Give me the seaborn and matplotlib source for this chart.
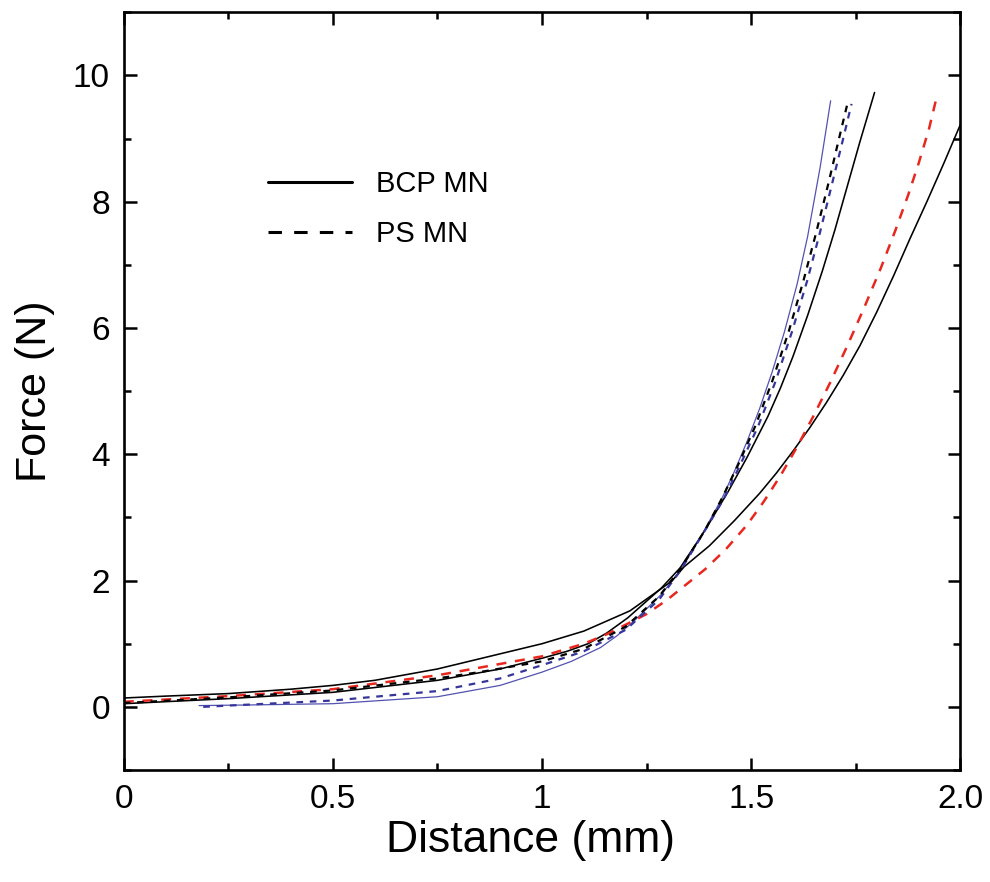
import numpy as np
import matplotlib
matplotlib.use("Agg")
import matplotlib.pyplot as plt
import seaborn as sns
from matplotlib.lines import Line2D
from matplotlib.ticker import MultipleLocator

sns.set_style("ticks")
plt.rcParams['font.family'] = ['Liberation Sans', 'DejaVu Sans']
plt.rcParams['text.color'] = 'black'
plt.rcParams['axes.labelcolor'] = 'black'
plt.rcParams['xtick.color'] = 'black'
plt.rcParams['ytick.color'] = 'black'

# force-distance curves (x in mm, y in N)
bcp_a_x = [0.0, 0.1, 0.25, 0.4, 0.5, 0.6, 0.75, 0.9, 1.0, 1.05, 1.1, 1.21, 1.31, 1.34, 1.40, 1.46, 1.52, 1.56, 1.60,
           1.64, 1.68, 1.72, 1.76, 1.80, 1.84, 1.88, 1.92, 1.96, 2.0]
bcp_a_y = [0.14, 0.17, 0.21, 0.28, 0.34, 0.42, 0.6, 0.84, 1.0, 1.1, 1.2, 1.52, 1.99, 2.22, 2.55, 2.95, 3.38, 3.7, 4.05,
           4.42, 4.82, 5.25, 5.72, 6.25, 6.82, 7.42, 8.0, 8.6, 9.22]

bcp_b_x = [0.0, 0.25, 0.5, 0.75, 0.9, 1.0, 1.06, 1.11, 1.155, 1.205, 1.285, 1.33, 1.39, 1.445, 1.49, 1.54, 1.57, 1.60,
           1.635, 1.67, 1.70, 1.73, 1.76, 1.795]
bcp_b_y = [0.05, 0.13, 0.23, 0.42, 0.6, 0.77, 0.88, 1.0, 1.17, 1.41, 1.88, 2.2, 2.8, 3.41, 3.95, 4.6, 5.05, 5.55,
           6.2, 6.9, 7.55, 8.25, 8.95, 9.73]

bcp_blue_x = [0.18, 0.3, 0.5, 0.75, 0.9, 1.0, 1.07, 1.14, 1.18, 1.22, 1.285, 1.33, 1.38, 1.43, 1.46, 1.49, 1.52, 1.55,
              1.58, 1.61, 1.635, 1.665, 1.69]
bcp_blue_y = [0.02, 0.03, 0.05, 0.16, 0.34, 0.55, 0.72, 0.94, 1.13, 1.36, 1.78, 2.15, 2.7, 3.3, 3.73, 4.2, 4.72, 5.3,
              5.95, 6.7, 7.45, 8.55, 9.6]

ps_black_x = [0.0, 0.25, 0.5, 0.75, 0.85, 1.0, 1.1, 1.2, 1.28, 1.33, 1.39, 1.43, 1.47, 1.51, 1.55, 1.59, 1.625, 1.655,
              1.685, 1.71, 1.73]
ps_black_y = [0.06, 0.15, 0.26, 0.45, 0.55, 0.72, 0.92, 1.27, 1.75, 2.18, 2.8, 3.3, 3.85, 4.45, 5.15, 5.95, 6.75, 7.5,
              8.3, 9.0, 9.55]

ps_blue_x = [0.19, 0.25, 0.5, 0.75, 0.9, 1.0, 1.1, 1.2, 1.28, 1.33, 1.39, 1.435, 1.475, 1.517, 1.558, 1.598, 1.634,
             1.664, 1.694, 1.72, 1.74]
ps_blue_y = [0.0, 0.02, 0.1, 0.25, 0.45, 0.66, 0.88, 1.22, 1.7, 2.15, 2.8, 3.3, 3.85, 4.45, 5.15, 5.95, 6.75,
             7.5, 8.3, 9.0, 9.55]

ps_red_x = [0.0, 0.25, 0.5, 0.75, 1.0, 1.1, 1.155, 1.25, 1.30, 1.39, 1.44, 1.49, 1.53, 1.57, 1.61, 1.65, 1.69, 1.73,
            1.77, 1.81, 1.845, 1.875, 1.90, 1.925, 1.945]
ps_red_y = [0.08, 0.17, 0.28, 0.5, 0.8, 1.0, 1.15, 1.47, 1.7, 2.18, 2.5, 2.88, 3.25, 3.66, 4.12, 4.62, 5.15, 5.72,
            6.32, 6.95, 7.55, 8.1, 8.6, 9.15, 9.7]

x_ticks = [0, 0.5, 1.0, 1.5, 2.0]
x_tick_labels = ["0", "0.5", "1", "1.5", "2.0"]
y_ticks = [0, 2, 4, 6, 8, 10]

fig = plt.figure(figsize=(9.9, 8.82), dpi=100)
ax = fig.add_axes([0.125, 0.127, 0.845, 0.859])

curves = [
    (bcp_blue_x, bcp_blue_y, "#5252b0", "-", 0.9),
    (bcp_a_x, bcp_a_y, "black", "-", 1.15),
    (bcp_b_x, bcp_b_y, "black", "-", 1.15),
    (ps_red_x, ps_red_y, "#e8281e", (0, (4, 3.5)), 1.8),
    (ps_blue_x, ps_blue_y, "#35359a", (0, (3, 3)), 1.6),
    (ps_black_x, ps_black_y, "black", (0, (3, 3)), 1.6),
]
for cx, cy, col, ls, lw in curves:
    sns.lineplot(x=cx, y=cy, ax=ax, color=col, linestyle=ls, linewidth=lw,
                 estimator=None, sort=False)

ax.set_xlim(0, 2.0)
ax.set_ylim(-1, 11)
ax.set_xticks(x_ticks)
ax.set_xticklabels(x_tick_labels)
ax.set_yticks(y_ticks)
ax.xaxis.set_minor_locator(MultipleLocator(0.25))
ax.yaxis.set_minor_locator(MultipleLocator(1))
ax.tick_params(which="both", direction="in", top=True, right=True, width=1.8,
               labelsize=24, pad=10)
ax.tick_params(which="major", length=9)
ax.tick_params(which="minor", length=5)
for sp in ax.spines.values():
    sp.set_linewidth(1.9)
    sp.set_color("black")

ax.set_xlabel("Distance (mm)", fontsize=32, labelpad=4)
ax.xaxis.label.set_x(0.486)
ax.set_ylabel("Force (N)", fontsize=31, labelpad=13)

handles = [
    Line2D([], [], color="black", linestyle="-", linewidth=2.2),
    Line2D([], [], color="black", linestyle=(0, (4.4, 4)), linewidth=2.2),
]
ax.legend(handles, ["BCP MN", "PS MN"], loc="upper left", bbox_to_anchor=(0.172, 0.792),
          frameon=False, fontsize=21, handlelength=2.9, handletextpad=0.8,
          labelspacing=0.77, borderpad=0, borderaxespad=0)

fig.savefig("out.png", dpi=100)
